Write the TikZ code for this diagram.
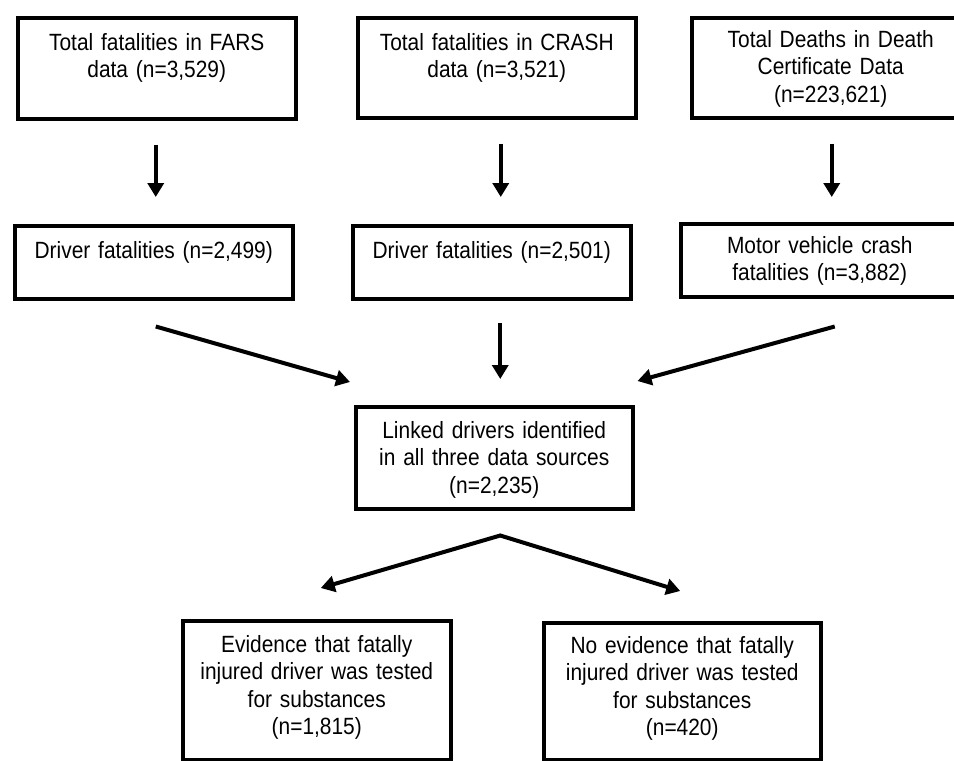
\documentclass[tikz,border=0pt]{standalone}
\usepackage{fontspec}
\setmainfont{Liberation Sans}
\newfontfamily\flowfont[FakeStretch=0.89]{Liberation Sans}
\usepackage{tikz}
\usetikzlibrary{calc}
\usetikzlibrary{arrows.meta}

\tikzset{
  flowbox/.style={draw, line width=3.5pt, anchor=north west, align=center,
    inner sep=0pt, font=\flowfont\fontsize{23.5}{27.5}\selectfont},
  flow/.style={line width=4pt, -{Triangle[length=14pt,width=16pt]}},
  split/.style={line width=4pt, {Triangle[length=14pt,width=16pt]}-{Triangle[length=14pt,width=16pt]}}
}

\begin{document}
\begin{tikzpicture}[x=1pt,y=-1pt]
\useasboundingbox (0,0) rectangle (954,761);

\node[flowbox, text width=278pt, text height=32.5pt, text depth=68.5pt] (fars) at (16,16)
  {Total fatalities in FARS\\ data (n=3,529)};
\node[flowbox, text width=278pt, text height=32.5pt, text depth=67.5pt] (crash) at (356,16)
  {Total fatalities in CRASH\\ data (n=3,521)};
\node[flowbox, text width=278pt, text height=29.5pt, text depth=70.5pt] (death) at (690,16)
  {Total Deaths in Death\\ Certificate Data\\ (n=223,621)};

\node[flowbox, text width=278pt, text height=32.5pt, text depth=40.5pt] (drvfars) at (13,224)
  {Driver fatalities (n=2,499)};
\node[flowbox, text width=278pt, text height=32.5pt, text depth=40.5pt] (drvcrash) at (351,224)
  {Driver fatalities (n=2,501)};
\node[flowbox, text width=278pt, text height=29.5pt, text depth=43.5pt] (motor) at (679,222)
  {Motor vehicle crash\\ fatalities (n=3,882)};

\node[flowbox, text width=277pt, text height=31.5pt, text depth=70.5pt] (linked) at (354,405)
  {Linked drivers identified\\ in all three data sources\\ (n=2,235)};

\node[flowbox, text width=268pt, text height=31.5pt, text depth=107.5pt] (tested) at (181,619)
  {Evidence that fatally\\ injured driver was tested\\ for substances\\ (n=1,815)};
\node[flowbox, text width=277pt, text height=30.5pt, text depth=106.5pt] (untested) at (542,621)
  {No evidence that fatally\\ injured driver was tested\\ for substances\\ (n=420)};

\draw[flow] ([xshift=-1pt,yshift=-24pt]fars.south) -- ([xshift=-1pt,yshift=27pt]fars.south |- drvfars.north);
\draw[flow] ([xshift=4pt,yshift=-24pt]crash.south) -- ([xshift=4pt,yshift=27pt]crash.south |- drvcrash.north);
\draw[flow] ([xshift=1pt,yshift=-24pt]death.south) -- ([xshift=1pt,yshift=25pt]death.south |- motor.north);

\draw[flow] ([xshift=2pt,yshift=-26pt]drvfars.south) -- ([xshift=-4pt,yshift=23pt]linked.north west);
\draw[flow] ([xshift=6pt,yshift=82pt]linked.north) -- ([xshift=6pt,yshift=26pt]linked.north);
\draw[flow] ([xshift=15pt,yshift=-28pt]motor.south) -- ([xshift=3pt,yshift=24pt]linked.north east);

\coordinate (apex) at ([xshift=6pt,yshift=-25pt]linked.south);
\coordinate (tiptested) at ([xshift=4pt,yshift=31pt]tested.north);
\coordinate (tipuntested) at ([xshift=-2pt,yshift=30pt]untested.north);
\draw[split] (tiptested) -- (apex) -- (tipuntested);
\end{tikzpicture}
\end{document}
